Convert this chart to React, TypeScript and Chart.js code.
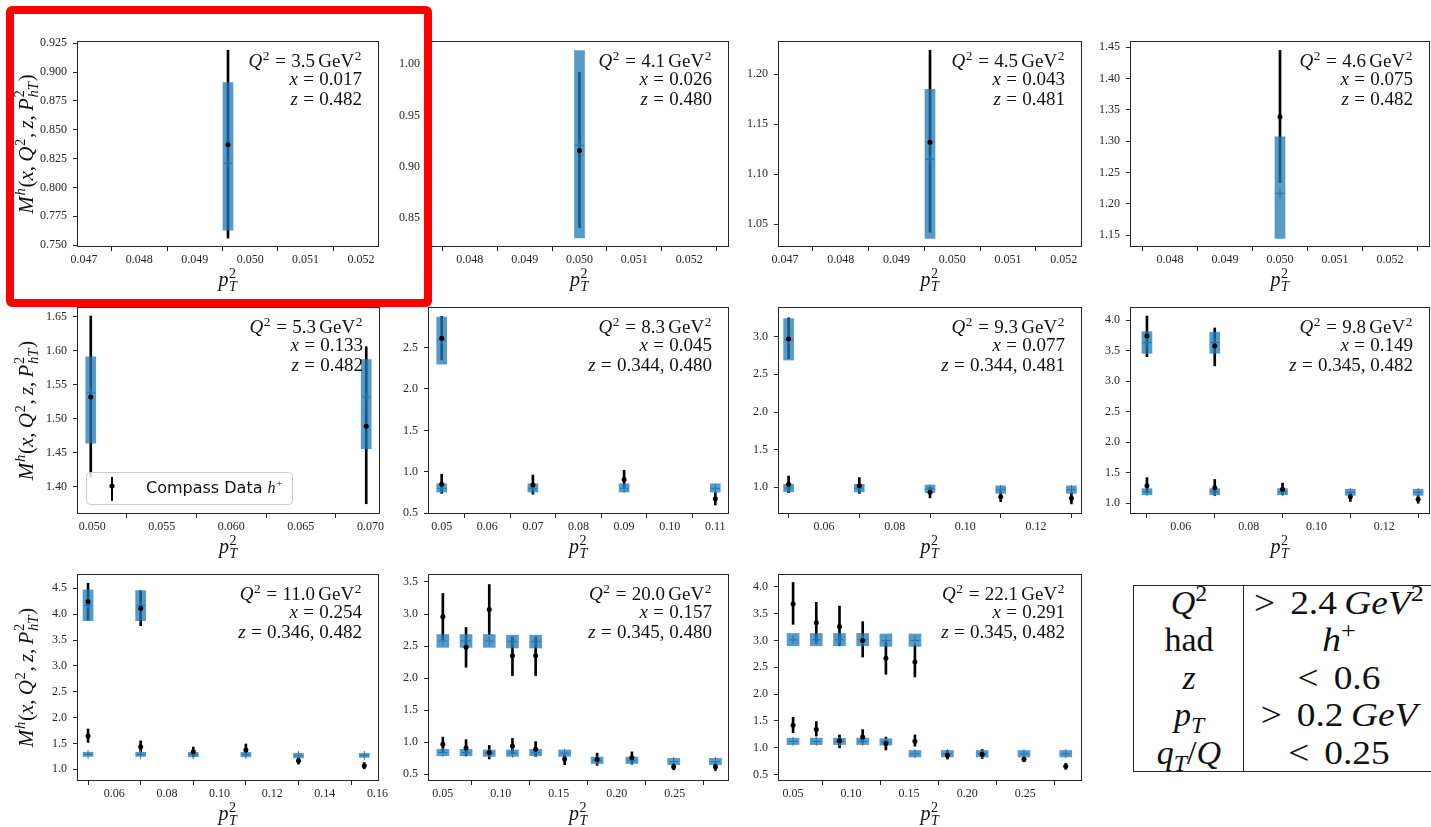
import React, { useEffect, useRef } from 'react';
import { Chart, registerables } from 'chart.js';

Chart.register(...registerables);

// ------------------------------------------------------------------ data
// Panel 1  (Q2 = 3.5)
const P1_PT = [0.0496];
const P1_M = [0.837];
const P1_LO = [0.756];
const P1_HI = [0.919];
const P1_TH_LO = [0.763];
const P1_TH_HI = [0.891];
const P1_TH_MID = [0.821];
const P1_XTICKS = [0.047, 0.048, 0.049, 0.05, 0.051, 0.052];
const P1_YTICKS = [0.75, 0.775, 0.8, 0.825, 0.85, 0.875, 0.9, 0.925];

// Panel 2  (Q2 = 4.1)
const P2_PT = [0.05];
const P2_M = [0.916];
const P2_LO = [0.841];
const P2_HI = [0.992];
const P2_TH_LO = [0.831];
const P2_TH_HI = [1.013];
const P2_TH_MID = [0.921];
const P2_XTICKS = [0.048, 0.049, 0.05, 0.051, 0.052];
const P2_YTICKS = [0.85, 0.9, 0.95, 1.0];

// Panel 3  (Q2 = 4.5)
const P3_PT = [0.0496];
const P3_M = [1.132];
const P3_LO = [1.042];
const P3_HI = [1.224];
const P3_TH_LO = [1.036];
const P3_TH_HI = [1.185];
const P3_TH_MID = [1.115];
const P3_XTICKS = [0.047, 0.048, 0.049, 0.05, 0.051, 0.052];
const P3_YTICKS = [1.05, 1.1, 1.15, 1.2];

// Panel 4  (Q2 = 4.6)
const P4_PT = [0.05];
const P4_M = [1.339];
const P4_LO = [1.234];
const P4_HI = [1.445];
const P4_TH_LO = [1.145];
const P4_TH_HI = [1.307];
const P4_TH_MID = [1.217];
const P4_XTICKS = [0.048, 0.049, 0.05, 0.051, 0.052];
const P4_YTICKS = [1.15, 1.2, 1.25, 1.3, 1.35, 1.4, 1.45];

// Panel 5  (Q2 = 5.3)
const P5_PT = [0.0499, 0.0697];
const P5_M = [1.532, 1.489];
const P5_LO = [1.414, 1.375];
const P5_HI = [1.651, 1.606];
const P5_TH_LO = [1.464, 1.456];
const P5_TH_HI = [1.591, 1.587];
const P5_TH_MID = [1.538, 1.532];
const P5_XTICKS = [0.05, 0.055, 0.06, 0.065, 0.07];
const P5_YTICKS = [1.4, 1.45, 1.5, 1.55, 1.6, 1.65];

// Panel 6  (Q2 = 8.3)
const P6_PT = [0.05, 0.05, 0.07, 0.09, 0.11];
const P6_M = [2.614, 0.848, 0.84, 0.908, 0.674];
const P6_LO = [2.351, 0.74, 0.73, 0.8, 0.6];
const P6_HI = [2.876, 0.97, 0.96, 1.017, 0.75];
const P6_TH_LO = [2.3, 0.755, 0.755, 0.755, 0.755];
const P6_TH_HI = [2.868, 0.855, 0.855, 0.855, 0.855];
const P6_TH_MID = [2.59, 0.8, 0.8, 0.8, 0.8];
const P6_XTICKS = [0.05, 0.06, 0.07, 0.08, 0.09, 0.1, 0.11];
const P6_YTICKS = [0.5, 1.0, 1.5, 2.0, 2.5];

// Panel 7  (Q2 = 9.3)
const P7_PT = [0.05, 0.05, 0.07, 0.09, 0.11, 0.13];
const P7_M = [2.97, 1.04, 1.02, 0.934, 0.876, 0.854];
const P7_LO = [2.71, 0.93, 0.92, 0.86, 0.81, 0.78];
const P7_HI = [3.25, 1.15, 1.13, 1.0, 0.94, 0.93];
const P7_TH_LO = [2.69, 0.94, 0.94, 0.93, 0.92, 0.92];
const P7_TH_HI = [3.24, 1.04, 1.04, 1.03, 1.02, 1.02];
const P7_TH_MID = [2.96, 0.99, 0.99, 0.98, 0.97, 0.97];
const P7_XTICKS = [0.06, 0.08, 0.1, 0.12];
const P7_YTICKS = [1.0, 1.5, 2.0, 2.5, 3.0];

// Panel 8  (Q2 = 9.8)
const P8_PT = [0.05, 0.07, 0.05, 0.07, 0.09, 0.11, 0.13];
const P8_M = [3.738, 3.574, 1.288, 1.255, 1.23, 1.108, 1.065];
const P8_LO = [3.4, 3.25, 1.17, 1.13, 1.14, 1.03, 1.0];
const P8_HI = [4.065, 3.87, 1.42, 1.39, 1.33, 1.17, 1.13];
const P8_TH_LO = [3.455, 3.455, 1.14, 1.14, 1.14, 1.13, 1.13];
const P8_TH_HI = [3.81, 3.8, 1.24, 1.24, 1.24, 1.23, 1.23];
const P8_TH_MID = [3.63, 3.63, 1.19, 1.19, 1.19, 1.18, 1.18];
const P8_XTICKS = [0.06, 0.08, 0.1, 0.12];
const P8_YTICKS = [1.0, 1.5, 2.0, 2.5, 3.0, 3.5, 4.0];

// Panel 9  (Q2 = 11.0)
const P9_PT = [0.05, 0.07, 0.05, 0.07, 0.09, 0.11, 0.13, 0.155];
const P9_M = [4.241, 4.113, 1.644, 1.437, 1.34, 1.373, 1.166, 1.07];
const P9_LO = [3.887, 3.777, 1.52, 1.33, 1.25, 1.27, 1.1, 1.01];
const P9_HI = [4.597, 4.455, 1.78, 1.55, 1.43, 1.49, 1.23, 1.13];
const P9_TH_LO = [3.875, 3.875, 1.25, 1.25, 1.24, 1.24, 1.22, 1.23];
const P9_TH_HI = [4.468, 4.455, 1.33, 1.33, 1.33, 1.33, 1.31, 1.31];
const P9_TH_MID = [4.17, 4.17, 1.29, 1.29, 1.285, 1.285, 1.265, 1.27];
const P9_XTICKS = [0.06, 0.08, 0.1, 0.12, 0.14, 0.16];
const P9_YTICKS = [1.0, 1.5, 2.0, 2.5, 3.0, 3.5, 4.0, 4.5];

// Panel 10 (Q2 = 20.0)
const P10_PT = [0.05, 0.07, 0.09, 0.11, 0.13, 0.05, 0.07, 0.09, 0.11, 0.13, 0.155, 0.183, 0.213, 0.249, 0.285];
const P10_M = [2.956, 2.48, 3.07, 2.35, 2.35, 0.97, 0.91, 0.84, 0.94, 0.89, 0.74, 0.73, 0.76, 0.62, 0.62];
const P10_LO = [2.6, 2.17, 2.68, 2.04, 2.04, 0.86, 0.79, 0.74, 0.82, 0.78, 0.65, 0.64, 0.66, 0.57, 0.56];
const P10_HI = [3.32, 2.79, 3.46, 2.64, 2.64, 1.08, 1.04, 0.95, 1.06, 1.01, 0.8, 0.83, 0.85, 0.67, 0.67];
const P10_TH_LO = [2.48, 2.48, 2.48, 2.47, 2.47, 0.79, 0.79, 0.78, 0.78, 0.79, 0.78, 0.67, 0.67, 0.65, 0.65];
const P10_TH_HI = [2.68, 2.68, 2.68, 2.67, 2.67, 0.89, 0.89, 0.88, 0.88, 0.89, 0.88, 0.77, 0.77, 0.75, 0.75];
const P10_TH_MID = [2.58, 2.58, 2.58, 2.57, 2.57, 0.84, 0.84, 0.83, 0.83, 0.84, 0.83, 0.72, 0.72, 0.7, 0.7];
const P10_XTICKS = [0.05, 0.1, 0.15, 0.2, 0.25];
const P10_YTICKS = [0.5, 1.0, 1.5, 2.0, 2.5, 3.0, 3.5];

// Panel 11 (Q2 = 22.1)
const P11_PT = [0.05, 0.07, 0.09, 0.11, 0.13, 0.155, 0.05, 0.07, 0.09, 0.11, 0.13, 0.155, 0.183, 0.213, 0.249, 0.285];
const P11_M = [3.68, 3.33, 3.26, 3.0, 2.67, 2.6, 1.42, 1.34, 1.13, 1.2, 1.08, 1.12, 0.86, 0.88, 0.785, 0.655];
const P11_LO = [3.3, 2.95, 2.9, 2.69, 2.37, 2.32, 1.28, 1.22, 1.0, 1.1, 0.96, 1.03, 0.79, 0.8, 0.74, 0.6];
const P11_HI = [4.08, 3.71, 3.64, 3.35, 2.97, 2.92, 1.57, 1.49, 1.24, 1.34, 1.2, 1.24, 0.95, 0.97, 0.83, 0.71];
const P11_TH_LO = [2.9, 2.9, 2.9, 2.9, 2.89, 2.89, 1.06, 1.06, 1.06, 1.06, 1.05, 0.83, 0.83, 0.83, 0.83, 0.83];
const P11_TH_HI = [3.13, 3.13, 3.13, 3.13, 3.12, 3.12, 1.18, 1.18, 1.18, 1.18, 1.17, 0.95, 0.95, 0.95, 0.95, 0.95];
const P11_TH_MID = [3.01, 3.01, 3.01, 3.01, 3.0, 3.0, 1.12, 1.12, 1.12, 1.12, 1.11, 0.89, 0.89, 0.89, 0.89, 0.89];
const P11_XTICKS = [0.05, 0.1, 0.15, 0.2, 0.25];
const P11_YTICKS = [0.5, 1.0, 1.5, 2.0, 2.5, 3.0, 3.5, 4.0];

// annotation values per panel
const Q2_VALUES = ['3.5', '4.1', '4.5', '4.6', '5.3', '8.3', '9.3', '9.8', '11.0', '20.0', '22.1'];
const X_VALUES = ['0.017', '0.026', '0.043', '0.075', '0.133', '0.045', '0.077', '0.149', '0.254', '0.157', '0.291'];
const Z_VALUES = ['0.482', '0.480', '0.481', '0.482', '0.482', '0.344, 0.480', '0.344, 0.481', '0.345, 0.482', '0.346, 0.482', '0.345, 0.480', '0.345, 0.482'];

const LEGEND_LABEL = 'Compass Data ';

// ------------------------------------------------------------------ style / layout
const INK = '#262626';
const SERIF = '"Liberation Serif", "Times New Roman", serif';
const SANS = '"DejaVu Sans", "Liberation Sans", sans-serif';
const BOX_COLOR = 'rgba(31,119,180,0.75)';
const CROSS_COLOR = 'rgba(31,119,180,1)';

const Y_AXIS_W = 70;
const PAD_R = 40;
const PAD_T = 14;
const X_AXIS_H = 50;

type Seg = { t?: string; i?: boolean; sup?: string; sub?: string; si?: boolean; bi?: boolean; gap?: number; fam?: string };

const PANELS = [
  { frame: [77, 41, 379, 247], xr: [0.046875, 0.052325], yr: [0.7483, 0.927], xt: P1_XTICKS, yt: P1_YTICKS, xd: 3, yd: 3, pt: P1_PT, m: P1_M, lo: P1_LO, hi: P1_HI, tl: P1_TH_LO, th: P1_TH_HI, tm: P1_TH_MID, ytitle: true, box: 10 },
  { frame: [430, 41, 729, 247], xr: [0.047275, 0.052725], yr: [0.8221, 1.0224], xt: P2_XTICKS, yt: P2_YTICKS, xd: 3, yd: 2, pt: P2_PT, m: P2_M, lo: P2_LO, hi: P2_HI, tl: P2_TH_LO, th: P2_TH_HI, tm: P2_TH_MID, box: 10 },
  { frame: [778, 41, 1082, 247], xr: [0.046875, 0.052325], yr: [1.0273, 1.2333], xt: P3_XTICKS, yt: P3_YTICKS, xd: 3, yd: 2, pt: P3_PT, m: P3_M, lo: P3_LO, hi: P3_HI, tl: P3_TH_LO, th: P3_TH_HI, tm: P3_TH_MID, box: 10 },
  { frame: [1130, 41, 1430, 247], xr: [0.047275, 0.052725], yr: [1.1313, 1.4601], xt: P4_XTICKS, yt: P4_YTICKS, xd: 3, yd: 2, pt: P4_PT, m: P4_M, lo: P4_LO, hi: P4_HI, tl: P4_TH_LO, th: P4_TH_HI, tm: P4_TH_MID, box: 10 },
  { frame: [77, 307, 380, 514], xr: [0.04891, 0.07069], yr: [1.3599, 1.6643], xt: P5_XTICKS, yt: P5_YTICKS, xd: 3, yd: 2, pt: P5_PT, m: P5_M, lo: P5_LO, hi: P5_HI, tl: P5_TH_LO, th: P5_TH_HI, tm: P5_TH_MID, ytitle: true, legend: true, box: 10 },
  { frame: [428, 307, 729, 514], xr: [0.047, 0.113], yr: [0.49, 2.99], xt: P6_XTICKS, yt: P6_YTICKS, xd: 2, yd: 1, pt: P6_PT, m: P6_M, lo: P6_LO, hi: P6_HI, tl: P6_TH_LO, th: P6_TH_HI, tm: P6_TH_MID, box: 10 },
  { frame: [778, 307, 1082, 514], xr: [0.047, 0.133], yr: [0.646, 3.394], xt: P7_XTICKS, yt: P7_YTICKS, xd: 2, yd: 1, pt: P7_PT, m: P7_M, lo: P7_LO, hi: P7_HI, tl: P7_TH_LO, th: P7_TH_HI, tm: P7_TH_MID, box: 10 },
  { frame: [1130, 307, 1430, 514], xr: [0.045, 0.1335], yr: [0.825, 4.213], xt: P8_XTICKS, yt: P8_YTICKS, xd: 2, yd: 1, pt: P8_PT, m: P8_M, lo: P8_LO, hi: P8_HI, tl: P8_TH_LO, th: P8_TH_HI, tm: P8_TH_MID, box: 10 },
  { frame: [77, 574, 379, 781], xr: [0.0458, 0.1606], yr: [0.774, 4.777], xt: P9_XTICKS, yt: P9_YTICKS, xd: 2, yd: 1, pt: P9_PT, m: P9_M, lo: P9_LO, hi: P9_HI, tl: P9_TH_LO, th: P9_TH_HI, tm: P9_TH_MID, ytitle: true, box: 10 },
  { frame: [428, 574, 729, 781], xr: [0.0372, 0.2967], yr: [0.396, 3.624], xt: P10_XTICKS, yt: P10_YTICKS, xd: 2, yd: 1, pt: P10_PT, m: P10_M, lo: P10_LO, hi: P10_HI, tl: P10_TH_LO, th: P10_TH_HI, tm: P10_TH_MID, box: 12 },
  { frame: [778, 574, 1082, 781], xr: [0.037, 0.299], yr: [0.382, 4.237], xt: P11_XTICKS, yt: P11_YTICKS, xd: 2, yd: 1, pt: P11_PT, m: P11_M, lo: P11_LO, hi: P11_HI, tl: P11_TH_LO, th: P11_TH_HI, tm: P11_TH_MID, box: 12 },
];

const Y_TITLE: Seg[] = [
  { t: 'M', i: true }, { sup: 'h', si: true }, { t: '(' }, { t: 'x', i: true }, { t: ',' }, { gap: 0.2 },
  { t: 'Q', i: true }, { sup: '2' }, { t: ',' }, { gap: 0.2 }, { t: 'z', i: true }, { t: ',' }, { gap: 0.2 },
  { t: 'P', i: true }, { sup: '2', sub: 'hT', bi: true }, { t: ')' },
];
const X_TITLE: Seg[] = [{ t: 'p', i: true }, { sup: '2', sub: 'T', bi: true }];

const TABLE_KEYS: Seg[][] = [
  [{ t: 'Q', i: true }, { sup: '2' }],
  [{ t: 'had' }],
  [{ t: 'z', i: true }],
  [{ t: 'p', i: true }, { sub: 'T', bi: true }],
  [{ t: 'q', i: true }, { sub: 'T', bi: true }, { t: '/' }, { t: 'Q', i: true }],
];
const TABLE_VALUES: Seg[][] = [
  [{ t: '>' }, { gap: 0.4 }, { t: '2.4' }, { gap: 0.2 }, { t: 'GeV', i: true }, { sup: '2' }],
  [{ t: 'h', i: true }, { sup: '+' }],
  [{ t: '<' }, { gap: 0.4 }, { t: '0.6' }],
  [{ t: '>' }, { gap: 0.4 }, { t: '0.2' }, { gap: 0.2 }, { t: 'GeV', i: true }],
  [{ t: '<' }, { gap: 0.4 }, { t: '0.25' }],
];

// ------------------------------------------------------------------ rich text helpers
function fontStr(size: number, italic?: boolean, fam?: string) {
  return `${italic ? 'italic ' : ''}${size}px ${fam || SERIF}`;
}

function segWidth(ctx: CanvasRenderingContext2D, s: Seg, size: number) {
  if (s.gap) return s.gap * size;
  let w = 0;
  if (s.t) {
    ctx.font = fontStr(size, s.i, s.fam);
    w += ctx.measureText(s.t).width;
  }
  if (s.sup || s.sub) {
    const ss = size * 0.7;
    let a = 0;
    let b = 0;
    if (s.sup) { ctx.font = fontStr(ss, s.si); a = ctx.measureText(s.sup).width; }
    if (s.sub) { ctx.font = fontStr(ss, s.bi); b = ctx.measureText(s.sub).width; }
    w += Math.max(a, b) + size * 0.06;
  }
  return w;
}

function drawRich(ctx: CanvasRenderingContext2D, segs: Seg[], x: number, y: number, size: number, align: string) {
  let total = 0;
  for (const s of segs) total += segWidth(ctx, s, size);
  let cx = align === 'left' ? x : align === 'right' ? x - total : x - total / 2;
  ctx.textAlign = 'left';
  ctx.textBaseline = 'alphabetic';
  for (const s of segs) {
    if (s.gap) { cx += s.gap * size; continue; }
    if (s.t) {
      ctx.font = fontStr(size, s.i, s.fam);
      ctx.fillText(s.t, cx, y);
      cx += ctx.measureText(s.t).width;
    }
    if (s.sup || s.sub) {
      const ss = size * 0.7;
      const x0 = cx + size * 0.03;
      let a = 0;
      let b = 0;
      if (s.sup) {
        ctx.font = fontStr(ss, s.si);
        ctx.fillText(s.sup, x0, y - size * (s.sub ? 0.42 : 0.38));
        a = ctx.measureText(s.sup).width;
      }
      if (s.sub) {
        ctx.font = fontStr(ss, s.bi);
        ctx.fillText(s.sub, x0, y + size * (s.sup ? 0.26 : 0.2));
        b = ctx.measureText(s.sub).width;
      }
      cx += Math.max(a, b) + size * 0.06;
    }
  }
}

function annotLines(q: string, x: string, z: string): Seg[][] {
  return [
    [{ t: 'Q', i: true }, { sup: '2' }, { gap: 0.28 }, { t: '=' }, { gap: 0.28 }, { t: q }, { gap: 0.17 }, { t: 'GeV' }, { sup: '2' }],
    [{ t: 'x', i: true }, { gap: 0.28 }, { t: '=' }, { gap: 0.28 }, { t: x }],
    [{ t: 'z', i: true }, { gap: 0.28 }, { t: '=' }, { gap: 0.28 }, { t: z }],
  ];
}

// ------------------------------------------------------------------ chart config
function axisOpts(kind: string, range: number[], ticks: number[], dec: number) {
  return {
    type: 'linear',
    min: range[0],
    max: range[1],
    bounds: 'data',
    offset: false,
    afterBuildTicks: (s: any) => { s.ticks = ticks.map((v) => ({ value: v })); },
    afterFit: (s: any) => { if (kind === 'x') s.height = X_AXIS_H; else s.width = Y_AXIS_W; },
    ticks: {
      autoSkip: false, maxRotation: 0, minRotation: 0, includeBounds: false,
      padding: kind === 'x' ? 2 : 6,
      color: INK,
      font: { family: SERIF, size: 12 },
      callback: (v: any) => Number(v).toFixed(dec),
    },
    grid: { display: true, drawOnChartArea: false, drawTicks: true, tickLength: 4, color: INK, lineWidth: 1 },
    border: { display: false },
  };
}

function makeDecor(p: any, idx: number) {
  return {
    id: 'decor' + idx,
    afterDraw(chart: any) {
      const ctx: CanvasRenderingContext2D = chart.ctx;
      const a = chart.chartArea;
      ctx.save();
      // legend (drawn before frame)
      if (p.legend) {
        const lx = a.left + 9;
        const ly = a.bottom - 42;
        const lw = 206;
        const lh = 32;
        ctx.beginPath();
        (ctx as any).roundRect(lx + 0.5, ly + 0.5, lw, lh, 4);
        ctx.fillStyle = 'rgba(255,255,255,0.85)';
        ctx.fill();
        ctx.strokeStyle = '#cccccc';
        ctx.lineWidth = 1;
        ctx.stroke();
        ctx.strokeStyle = '#000';
        ctx.lineWidth = 2;
        ctx.beginPath();
        ctx.moveTo(lx + 26, ly + 5);
        ctx.lineTo(lx + 26, ly + lh - 3);
        ctx.stroke();
        ctx.fillStyle = '#000';
        ctx.beginPath();
        ctx.arc(lx + 26, ly + 14, 2.6, 0, Math.PI * 2);
        ctx.fill();
        ctx.fillStyle = '#111';
        drawRich(ctx, [{ t: LEGEND_LABEL, fam: SANS }, { t: 'h', i: true }, { sup: '+' }], lx + 60, ly + 21, 16, 'left');
      }
      // frame
      ctx.strokeStyle = INK;
      ctx.lineWidth = 1;
      ctx.strokeRect(a.left + 0.5, a.top + 0.5, a.right - a.left - 1, a.bottom - a.top - 1);
      // annotation
      ctx.fillStyle = '#111';
      const lines = annotLines(Q2_VALUES[idx], X_VALUES[idx], Z_VALUES[idx]);
      const offs = [26, 44, 64];
      lines.forEach((segs, k) => drawRich(ctx, segs, a.right - 17, a.top + offs[k], 19, 'right'));
      // x title
      drawRich(ctx, X_TITLE, (a.left + a.right) / 2, a.bottom + 39, 20, 'center');
      // y title
      if (p.ytitle) {
        ctx.save();
        ctx.translate(a.left - 44, (a.top + a.bottom) / 2);
        ctx.rotate(-Math.PI / 2);
        drawRich(ctx, Y_TITLE, 0, 0, 21, 'center');
        ctx.restore();
      }
      ctx.restore();
    },
  };
}

function buildConfig(p: any, idx: number): any {
  return {
    type: 'bar',
    data: {
      datasets: [
        {
          type: 'scatter',
          data: p.pt.map((x: number, i: number) => ({ x, y: p.m[i] })),
          pointRadius: 2.5,
          pointHoverRadius: 2.5,
          pointBackgroundColor: '#000',
          pointBorderColor: '#000',
          pointBorderWidth: 0,
          order: 0,
        },
        {
          type: 'scatter',
          data: p.pt.map((x: number, i: number) => ({ x, y: p.tm[i] })),
          pointStyle: 'cross',
          pointRadius: 4.5,
          pointHoverRadius: 4.5,
          pointBorderColor: CROSS_COLOR,
          pointBorderWidth: 1,
          order: 1,
        },
        {
          type: 'bar',
          data: p.pt.map((x: number, i: number) => ({ x, y: [p.tl[i], p.th[i]] })),
          backgroundColor: BOX_COLOR,
          barThickness: p.box,
          grouped: false,
          borderWidth: 0,
          order: 2,
        },
        {
          type: 'bar',
          data: p.pt.map((x: number, i: number) => ({ x, y: [p.lo[i], p.hi[i]] })),
          backgroundColor: '#000',
          barThickness: 2,
          grouped: false,
          borderWidth: 0,
          order: 3,
        },
      ],
    },
    options: {
      responsive: false,
      animation: false,
      events: [],
      layout: { padding: { left: 0, top: PAD_T, right: PAD_R, bottom: 0 } },
      plugins: { legend: { display: false }, tooltip: { enabled: false }, title: { display: false } },
      scales: {
        x: axisOpts('x', p.xr, p.xt, p.xd),
        y: axisOpts('y', p.yr, p.yt, p.yd),
      },
    },
    plugins: [makeDecor(p, idx)],
  };
}

// ------------------------------------------------------------------ components
function Panel({ p, idx }: { p: any; idx: number }) {
  const ref = useRef<HTMLCanvasElement>(null);
  useEffect(() => {
    const chart = new Chart(ref.current as HTMLCanvasElement, buildConfig(p, idx));
    return () => chart.destroy();
  }, []);
  const [L, T, R, B] = p.frame;
  const w = R - L + Y_AXIS_W + PAD_R;
  const h = B - T + PAD_T + X_AXIS_H;
  return (
    <canvas
      ref={ref}
      width={w}
      height={h}
      style={{ position: 'absolute', left: L - Y_AXIS_W, top: T - PAD_T, width: w, height: h }}
    />
  );
}

function RichHtml({ segs }: { segs: Seg[] }) {
  return (
    <span>
      {segs.map((s, k) => {
        if (s.gap) return <span key={k} style={{ display: 'inline-block', width: `${s.gap}em` }} />;
        return (
          <span key={k}>
            {s.t ? <span style={{ fontStyle: s.i ? 'italic' : 'normal' }}>{s.t}</span> : null}
            {s.sup ? (
              <span style={{ fontSize: '0.7em', position: 'relative', top: '-0.55em', fontStyle: s.si ? 'italic' : 'normal' }}>{s.sup}</span>
            ) : null}
            {s.sub ? (
              <span style={{ fontSize: '0.7em', position: 'relative', top: '0.3em', fontStyle: s.bi ? 'italic' : 'normal' }}>{s.sub}</span>
            ) : null}
          </span>
        );
      })}
    </span>
  );
}

function CutTable() {
  const rowH = 37.4;
  return (
    <div
      style={{
        position: 'absolute', left: 1133, top: 585, width: 310, height: 187,
        border: `1.5px solid ${INK}`, boxSizing: 'border-box',
        fontFamily: SERIF, fontSize: 34, color: '#111',
      }}
    >
      <div style={{ position: 'absolute', left: 108.5, top: 0, bottom: 0, borderLeft: `1.5px solid ${INK}` }} />
      {TABLE_KEYS.map((k, i) => (
        <div key={i} style={{ position: 'absolute', top: i * rowH - 2, height: rowH, left: 0, width: 110, textAlign: 'center', lineHeight: `${rowH}px`, whiteSpace: 'nowrap' }}>
          <RichHtml segs={k} />
        </div>
      ))}
      {TABLE_VALUES.map((v, i) => (
        <div key={i} style={{ position: 'absolute', top: i * rowH - 2, height: rowH, left: 110, width: 190, textAlign: 'center', lineHeight: `${rowH}px`, whiteSpace: 'nowrap', transform: 'scaleX(1.1)' }}>
          <RichHtml segs={v} />
        </div>
      ))}
    </div>
  );
}

export default function App() {
  return (
    <div style={{ position: 'absolute', left: 0, top: 0, width: 1431, height: 827, overflow: 'hidden', background: '#fff' }}>
      {PANELS.map((p, i) => (
        <Panel key={i} p={p} idx={i} />
      ))}
      <CutTable />
      <div
        style={{
          position: 'absolute', left: 6, top: 6, width: 426, height: 301,
          border: '8px solid #ff0000', borderRadius: 6, boxSizing: 'border-box',
        }}
      />
    </div>
  );
}
